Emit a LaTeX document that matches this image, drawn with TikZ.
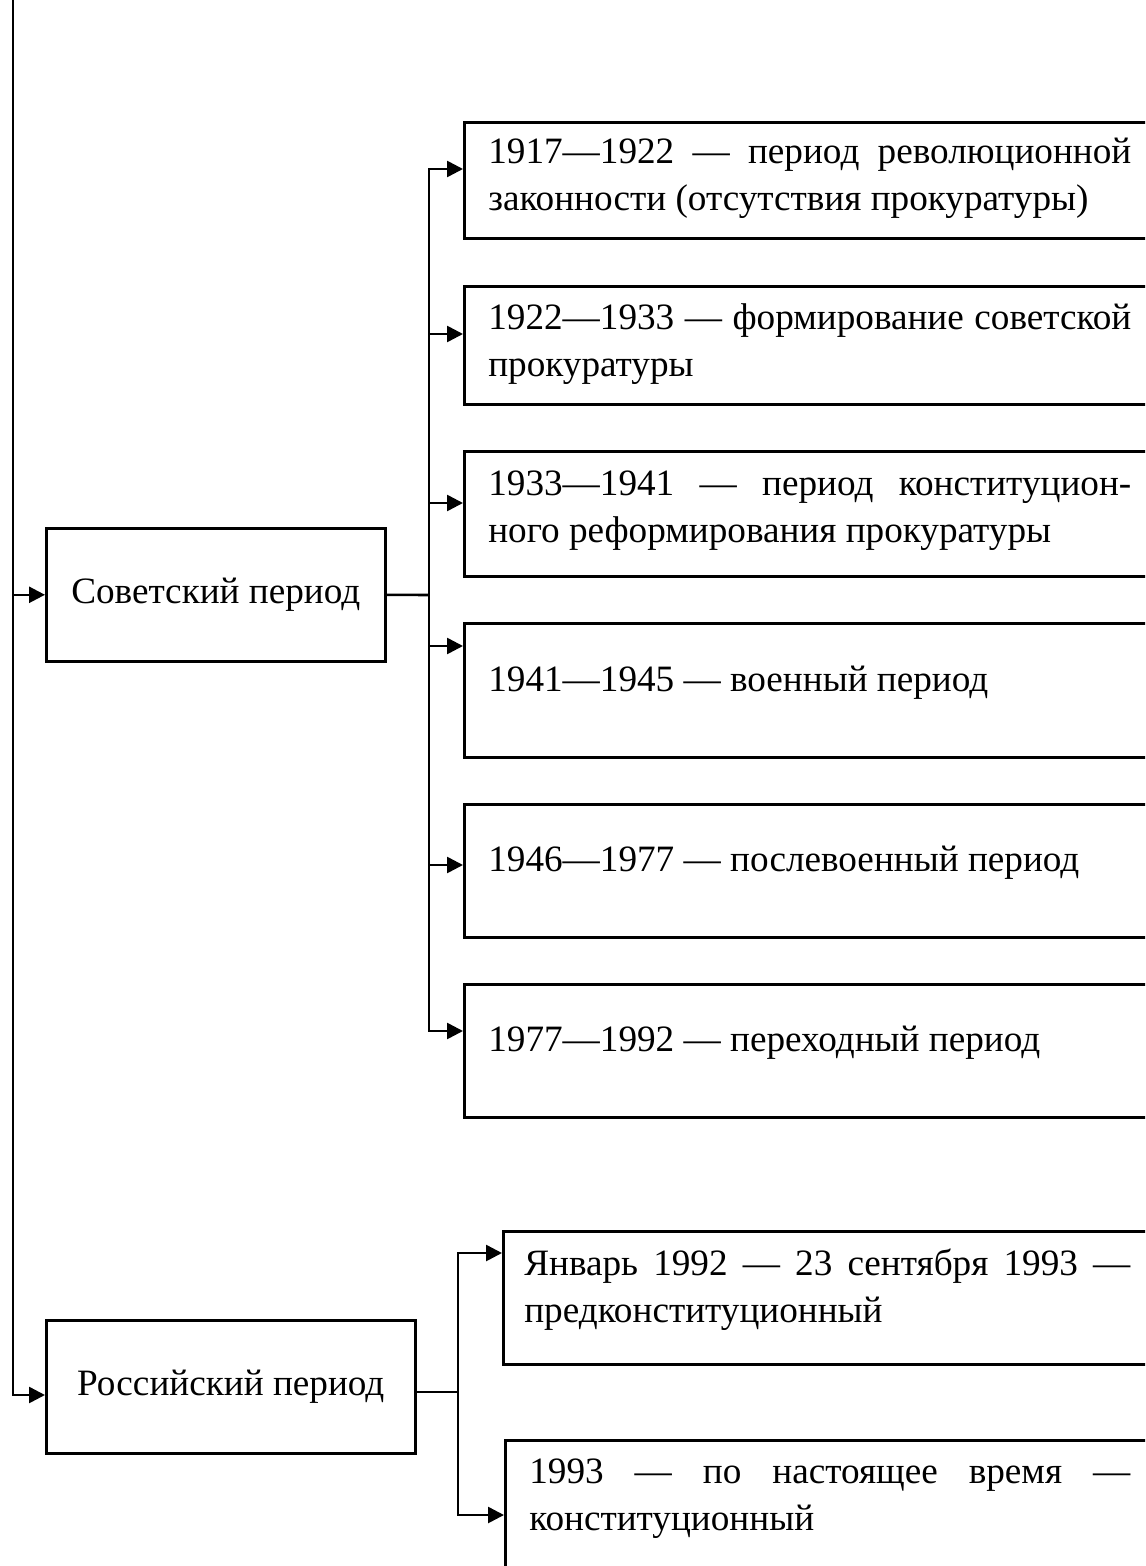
\documentclass[tikz,border=0pt]{standalone}
\usepackage{fontspec}
\setmainfont{Liberation Serif}
\usetikzlibrary{arrows.meta}
\newcommand{\fillline}[2]{\makebox[#1][s]{#2}}

\begin{document}
\begin{tikzpicture}[x=0.5pt,y=-0.5pt,line width=1.3pt,
  >={Triangle[length=8pt,width=8pt]},
  font=\fontsize{18.6pt}{23.5pt}\selectfont,
  period/.style={draw,anchor=north west,minimum height=66.5pt,inner sep=0pt},
  stage/.style={draw,anchor=north west,minimum width=348.5pt,inner sep=0pt},
  note/.style={anchor=base west,align=left,inner sep=0pt}]

\clip (0,0) rectangle (1145,1566);

\node[period,minimum width=169.5pt] (sov) at (45,527) {Советский период};
\node[period,minimum width=184.5pt] (rus) at (45,1319) {Российский период};

\node[stage,minimum height=58pt] (s1) at (463,121) {};
\node[stage,minimum height=59pt] (s2) at (463,285) {};
\node[stage,minimum height=62.5pt] (s3) at (463,450) {};
\node[stage,minimum height=67pt] (s4) at (463,622) {};
\node[stage,minimum height=66.5pt] (s5) at (463,803) {};
\node[stage,minimum height=66.5pt] (s6) at (463,983) {};
\node[stage,minimum width=330pt,minimum height=66.5pt] (r1) at (502,1230) {};
\node[stage,minimum width=330pt,minimum height=100pt] (r2) at (504,1439) {};

% two-line notes sit on the baseline of their last line
\node[note] (s1t) at (487,211) {\fillline{321.5pt}{1917—1922 — период революционной}\\законности (отсутствия прокуратуры)};
\node[note] (s2t) at (487,377) {\fillline{321.5pt}{1922—1933 — формирование советской}\\прокуратуры};
\node[note] (s3t) at (487,542) {\fillline{321.5pt}{1933—1941 — период конституцион-}\\ного реформирования прокуратуры};
\node[note] (s4t) at (487,691) {1941—1945 — военный период};
\node[note] (s5t) at (487,871) {1946—1977 — послевоенный период};
\node[note] (s6t) at (487,1051) {1977—1992 — переходный период};
\node[note] (r1t) at (523,1322) {\fillline{303pt}{Январь 1992 — 23 сентября 1993 —}\\предконституционный};
\node[note] (r2t) at (528,1530) {\fillline{300.5pt}{1993 — по настоящее время —}\\конституционный};

\coordinate (top) at (13,0);
\draw[->] (top |- sov.west) -- (sov.west);
\draw[->] (top) |- (rus.west |- 0,1395);

\coordinate (sj) at (429,595);
\draw (sov.east) -- (sj);
\draw[->] (sj) |- (s1.west |- 0,169);
\draw[->] (sj) |- (s6.west |- 0,1031);
\foreach \n/\y in {s2/334,s3/503,s4/646,s5/865}
  \draw[->] (sj |- 0,\y) -- (\n.west |- 0,\y);

\coordinate (rj) at (458,1392);
\draw (rus.east |- rj) -- (rj);
\draw[->] (rj) |- (r1.west |- 0,1253);
\draw[->] (rj) |- (r2.west |- 0,1515);

\end{tikzpicture}
\end{document}
